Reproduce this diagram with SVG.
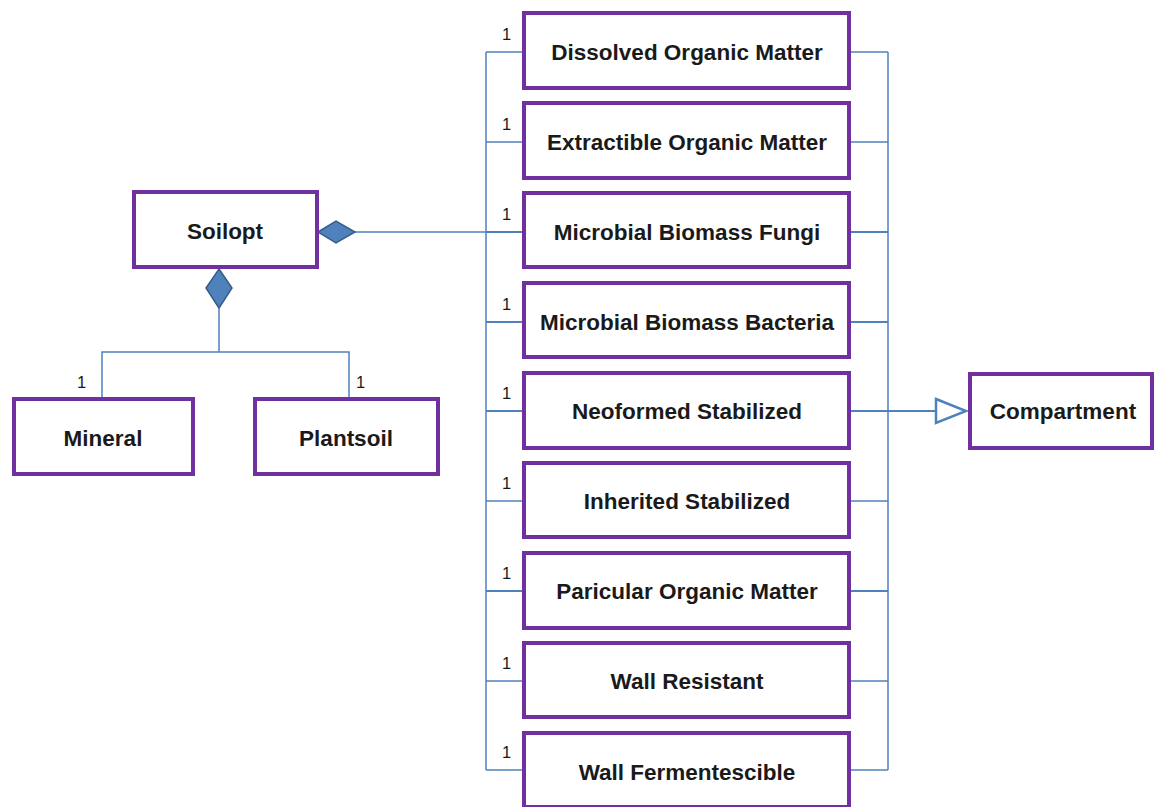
<svg xmlns="http://www.w3.org/2000/svg" width="1156" height="807" viewBox="0 0 1156 807">
  <style>
    .box { fill: #ffffff; stroke: #7030A0; stroke-width: 4; }
    .lbl { font-family: "Liberation Sans", Arial, sans-serif; font-weight: bold; font-size: 22.5px; fill: #1a1a1a; text-anchor: middle; dominant-baseline: central; }
    .mul { font-family: "Liberation Sans", Arial, sans-serif; font-size: 16.5px; fill: #1a1a1a; }
    .ln { stroke: #4F81BD; stroke-width: 1.5; fill: none; }
    .ln2 { stroke: #4F81BD; stroke-width: 2; fill: none; }
    .dia { fill: #4F81BD; stroke: #385D8A; stroke-width: 1.5; }
    .tri { fill: #ffffff; stroke: #4F81BD; stroke-width: 2.5; }
  </style>
  <rect width="1156" height="807" fill="#ffffff"/>

  <g id="connectors">
    <!-- left bus joining the compartment boxes -->
    <path class="ln" d="M486,52 V770"/>
    <path class="ln" d="M486,52 H522 M486,142 H522 M486,501 H522 M486,681 H522 M486,770 H522"/>
    <path class="ln2" d="M486,232 H522 M486,322 H522 M486,411 H522 M486,591 H522"/>
    <!-- right bus into generalisation -->
    <path class="ln" d="M888,52 V770"/>
    <path class="ln" d="M851,52 H888 M851,142 H888 M851,501 H888 M851,681 H888 M851,770 H888"/>
    <path class="ln2" d="M851,232 H888 M851,322 H888 M851,591 H888"/>
    <path class="ln2" d="M851,411 H936"/>
    <polygon class="tri" points="936,399 966,411 936,423"/>
    <!-- composition Soilopt -> compartments -->
    <path class="ln" d="M354,232 H522"/>
    <polygon class="dia" points="318,232 336,221 355,232 336,243"/>
    <!-- composition Soilopt -> Mineral / Plantsoil -->
    <polygon class="dia" points="219,269 232,288 219,308 206,288"/>
    <path class="ln" d="M219,308 V352 M102,398 V352 H349 V398"/>
    <!-- multiplicities -->
    <text class="mul" x="502" y="40">1</text>
    <text class="mul" x="502" y="130">1</text>
    <text class="mul" x="502" y="220">1</text>
    <text class="mul" x="502" y="310">1</text>
    <text class="mul" x="502" y="399">1</text>
    <text class="mul" x="502" y="489">1</text>
    <text class="mul" x="502" y="579">1</text>
    <text class="mul" x="502" y="669">1</text>
    <text class="mul" x="502" y="758">1</text>
    <text class="mul" x="77" y="388">1</text>
    <text class="mul" x="356" y="388">1</text>
  </g>

  <g id="soilopt"><rect class="box" x="134" y="192" width="183" height="75"/><text class="lbl" x="225" y="231">Soilopt</text></g>
  <g id="mineral"><rect class="box" x="14" y="399" width="179" height="75"/><text class="lbl" x="103" y="438">Mineral</text></g>
  <g id="plantsoil"><rect class="box" x="255" y="399" width="183" height="75"/><text class="lbl" x="346" y="438">Plantsoil</text></g>
  <g id="compartment"><rect class="box" x="970" y="374" width="182" height="74"/><text class="lbl" x="1063" y="411">Compartment</text></g>

  <g id="dom"><rect class="box" x="524" y="13" width="325" height="75"/><text class="lbl" x="687" y="52">Dissolved Organic Matter</text></g>
  <g id="eom"><rect class="box" x="524" y="103" width="325" height="75"/><text class="lbl" x="687" y="142">Extractible Organic Matter</text></g>
  <g id="mbf"><rect class="box" x="524" y="193" width="325" height="74"/><text class="lbl" x="687" y="232">Microbial Biomass Fungi</text></g>
  <g id="mbb"><rect class="box" x="524" y="283" width="325" height="74"/><text class="lbl" x="687" y="322">Microbial Biomass Bacteria</text></g>
  <g id="ns"><rect class="box" x="524" y="373" width="325" height="75"/><text class="lbl" x="687" y="411">Neoformed Stabilized</text></g>
  <g id="is"><rect class="box" x="524" y="463" width="325" height="74"/><text class="lbl" x="687" y="501">Inherited Stabilized</text></g>
  <g id="pom"><rect class="box" x="524" y="553" width="325" height="75"/><text class="lbl" x="687" y="591">Paricular Organic Matter</text></g>
  <g id="wr"><rect class="box" x="524" y="643" width="325" height="74"/><text class="lbl" x="687" y="681">Wall Resistant</text></g>
  <g id="wf"><rect class="box" x="524" y="733" width="325" height="74"/><text class="lbl" x="687" y="772">Wall Fermentescible</text></g>
</svg>
